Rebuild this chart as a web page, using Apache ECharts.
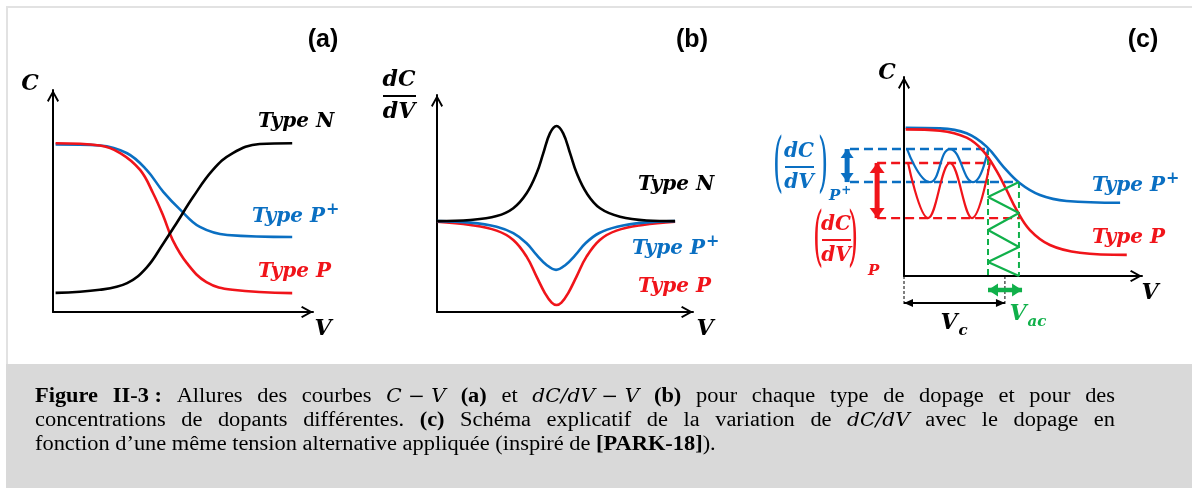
<!DOCTYPE html>
<html><head><meta charset="utf-8">
<script src="https://cdn.jsdelivr.net/npm/echarts@6/dist/echarts.min.js"></script>
<style>html,body{margin:0;padding:0;background:#fff}#c{width:1192px;height:488px}</style>
</head><body><div id="c"></div>
<script>
// ================= DATA (arbitrary units 0-100) =================
// Panel (a): C-V curves
const aTypeN     = [[1,8.6],[18,10],[28.5,13],[36,20],[42.5,31],[47.5,40],[54,52],[61.5,64],[69,71.5],[79.5,75.7],[92,76]];
const aTypePplus = [[1,75.5],[18,75],[28.5,71.5],[36,64],[42.5,54],[49,46],[56.5,38.3],[67,34.7],[92,33.8]];
const aTypeP     = [[1,76],[18,75],[26,71.5],[33.5,64],[38.5,53.5],[42.5,43],[46,32.5],[51.5,22],[59,13.5],[69,10],[92,8.5]];
// Panel (b): dC/dV-V curves
const bTypeN     = [[0,41.9],[13,42.4],[23.3,44.2],[29.8,47.8],[35,54.7],[38.9,63.9],[41.5,73.1],[44.1,82.3],[46.7,85.7],[49.3,82.3],[52,73.1],[54.6,63.9],[58.5,54.7],[63.7,47.8],[71.5,43.9],[81.9,42.2],[93,41.9]];
const bTypePplus = [[0,41.9],[13,41.2],[23.3,39.3],[29.8,36.3],[35,31.7],[38.9,26.3],[42.8,21.7],[46.5,19.4],[50.2,21.7],[54.1,26.3],[58,31.7],[63.2,36.3],[70.4,39.3],[80.8,41.2],[93,41.9]];
const bTypeP     = [[0,41.6],[13,40.1],[23.3,37.5],[29.8,33.2],[35,25.5],[38.9,16.3],[42.2,8.6],[44.8,4.3],[46.7,3.2],[48.6,4.3],[51.2,8.6],[54.5,16.3],[58.4,25.5],[63.6,33.2],[70.1,37.5],[80.4,40.1],[93,41.6]];
// Panel (c): C-V curves and the small-signal construction
const cTypePplus = [[0.7,74.5],[15.1,74.2],[26.3,71.7],[34.7,65],[41.7,55],[48.7,46.6],[57.1,40.7],[68.3,37.7],[90.8,36.8]];
const cTypeP     = [[0.7,73.7],[15.1,73],[26.3,69.5],[33.3,62.8],[38.9,52.8],[43.1,43.2],[47.3,33.2],[52.9,23.1],[61.3,15.6],[73.9,11.7],[93.6,10.6]];
const cWavePplus = [[1.3,63.8],[10.9,47.2],[19.3,63.8],[29,47.2],[35.3,63.8]];
const cWaveP     = [[1.7,56.8],[10.1,29.1],[19.3,56.8],[28.6,29.1],[36.1,56.8]];
const cDashPplusHi = [[-22.7,63.8],[35.3,63.8]];
const cDashPplusLo = [[-22.7,47.2],[47.9,47.2]];
const cDashPHi     = [[-11.3,56.8],[36.1,56.8]];
const cDashPLo     = [[-11.3,29.1],[48.7,29.1]];
const cArrowPplus  = [[-23.9,63.8],[-23.9,47.2]];
const cArrowP      = [[-11.3,56.8],[-11.3,29.1]];
const cVacLeft     = [[35.3,63.8],[35.3,0]];
const cVacRight    = [[48.3,47.2],[48.3,0]];
const cVacWave     = [[48.3,47.2],[35.3,39.7],[48.3,31.7],[35.3,23.1],[48.3,14.6],[35.3,7.0],[48.3,0]];
const cVacArrow    = [[35.3,-7],[49.6,-7]];
const cVcLeft      = [[0,0],[0,-14.6]];
const cVcRight     = [[42.4,0],[42.4,-14.6]];
const cVcArrow     = [[0,-13.6],[42.4,-13.6]];
// Texts
const panelTags = ['(a)','(b)','(c)'];
const typeLabels = ['Type N','Type P','Type P'];
const captionLines = [
  [['Figure II-3\u00A0:','b'],[' Allures des courbes ','n'],['C − V','m'],[' ','n'],['(a)','b'],[' et ','n'],['dC/dV − V','m'],[' ','n'],['(b)','b'],[' pour chaque type de dopage et pour des','n']],
  [['concentrations de dopants différentes. ','n'],['(c)','b'],[' Schéma explicatif de la variation de ','n'],['dC/dV','m'],[' avec le dopage en','n']],
  [['fonction d’une même tension alternative appliquée (inspiré de ','n'],['[PARK-18]','b'],[').','n']]
];
// =======================================================================================

const BLUE='#0a6fc2', RED='#f0141a', GREEN='#10b04a', BLACK='#000';
const ARROW='path://M5,0L10,9L8.7,10L5,3.2L1.3,10L0,9Z';
const TRI='path://M5,0L10,10L0,10Z';
const SERIF_BI='italic bold 20px "DejaVu Serif"';
const cv=document.createElement('canvas').getContext('2d');

// grid 3 shares grid 2's pixel scale but extends to the left (x from -30) so the construction lines can reach the labels
const C_LEFT=904, C_W=238, C_XMIN=-30;
const grids=[
  {left:53,top:90,width:260,height:222},
  {left:437,top:95,width:256,height:217},
  {left:C_LEFT,top:77,width:C_W,height:199},
  {left:C_LEFT + C_XMIN*C_W/100,top:77,width:C_W*(100-C_XMIN)/100,height:199}
];
function mkAxis(i,min){
  return {gridIndex:i,type:'value',min:(min==null?0:min),max:100,show:i<3,
    axisLine:{show:true,onZero:false,symbol:['none',ARROW],symbolSize:[12,12],symbolOffset:[0,-6],lineStyle:{color:BLACK,width:2}},
    axisTick:{show:false},axisLabel:{show:false},splitLine:{show:false}};
}
function ln(g,data,color,width,extra){
  return Object.assign({type:'line',xAxisIndex:g,yAxisIndex:g,data:data,symbol:'none',smooth:false,
    lineStyle:{color:color,width:width},itemStyle:{color:color},silent:true,clip:false,animation:false},extra||{});
}
function arrowItems(pts,w,h){
  const [p0,p1]=pts; const vertical = Math.abs(p0[0]-p1[0])<1e-6;
  if(vertical){
    const up0 = p0[1]>p1[1];
    return [
      {value:p0,symbol:TRI,symbolSize:[w,h],symbolRotate:up0?0:180,symbolOffset:[0,up0?h/2:-h/2]},
      {value:p1,symbol:TRI,symbolSize:[w,h],symbolRotate:up0?180:0,symbolOffset:[0,up0?-h/2:h/2]}
    ];
  } else {
    const left0 = p0[0]<p1[0];
    return [
      {value:p0,symbol:TRI,symbolSize:[w,h],symbolRotate:left0?90:-90,symbolOffset:[left0?h/2:-h/2,0]},
      {value:p1,symbol:TRI,symbolSize:[w,h],symbolRotate:left0?-90:90,symbolOffset:[left0?-h/2:h/2,0]}
    ];
  }
}
function arrowSeries(g,pts,color,lw,w,h){
  return ln(g,arrowItems(pts,w,h),color,lw,{symbol:TRI,showSymbol:true,symbolSize:[w,h]});
}
const dashed=(c,w,p)=>({lineStyle:{color:c,width:w,type:p}});
const series=[
  ln(0,aTypePplus,BLUE,2.6,{smooth:0.4}),
  ln(0,aTypeP,RED,2.6,{smooth:0.4}),
  ln(0,aTypeN,BLACK,2.6,{smooth:0.4}),
  ln(1,bTypeP,RED,2.6,{smooth:0.4}),
  ln(1,bTypePplus,BLUE,2.6,{smooth:0.4}),
  ln(1,bTypeN,BLACK,2.6,{smooth:0.4}),
  ln(3,cDashPplusHi,BLUE,2.4,dashed(BLUE,2.4,[9,5])),
  ln(3,cDashPplusLo,BLUE,2.4,dashed(BLUE,2.4,[9,5])),
  ln(3,cDashPHi,RED,2.4,dashed(RED,2.4,[9,5])),
  ln(3,cDashPLo,RED,2.4,dashed(RED,2.4,[9,5])),
  ln(3,cVacLeft,GREEN,2,dashed(GREEN,2,[6,4])),
  ln(3,cVacRight,GREEN,2,dashed(GREEN,2,[6,4])),
  ln(3,cVcLeft,BLACK,1,dashed(BLACK,1,[3,2])),
  ln(3,cVcRight,BLACK,1,dashed(BLACK,1,[3,2])),
  ln(3,cWavePplus,BLUE,2.2,{smooth:0.5}),
  ln(3,cWaveP,RED,2.2,{smooth:0.4}),
  ln(3,cTypePplus,BLUE,2.6,{smooth:0.4}),
  ln(3,cTypeP,RED,2.6,{smooth:0.4}),
  ln(3,cVacWave,GREEN,2.2),
  arrowSeries(3,cArrowPplus,BLUE,5,13,9),
  arrowSeries(3,cArrowP,RED,5,15,10),
  arrowSeries(3,cVacArrow,GREEN,4.5,13,10),
  arrowSeries(3,cVcArrow,BLACK,2,8,9)
];

// ---------- graphic texts ----------
const G=[];
function txt(x,y,t,font,fill,align,extra){
  G.push(Object.assign({type:'text',x:x,y:y,silent:true,style:{text:t,font:font,fill:fill||BLACK,align:align||'center',verticalAlign:'middle'}},extra||{}));
}
function hline(x1,x2,y,color,w){
  G.push({type:'line',silent:true,shape:{x1:x1,y1:y,x2:x2,y2:y},style:{stroke:color,lineWidth:w||2}});
}
function width(t,font){cv.font=font;return cv.measureText(t).width;}
// label with a superscript "+"
function supPlus(x,y,t,font,fill,supFont,dy){
  txt(x,y,t,font,fill,'left');
  txt(x+width(t,font)+1,y-dy,'+',supFont,fill,'left');
}
// frame & caption box
G.push({type:'rect',silent:true,shape:{x:6,y:364,width:1186,height:124},style:{fill:'#d9d9d9'}});
G.push({type:'line',silent:true,shape:{x1:6,y1:7,x2:1192,y2:7},style:{stroke:'#e2e2e2',lineWidth:2}});
G.push({type:'line',silent:true,shape:{x1:7,y1:6,x2:7,y2:364},style:{stroke:'#e2e2e2',lineWidth:2}});
// panel tags
const TAGF='bold 25px "Liberation Sans"';
txt(323,40,panelTags[0],TAGF); txt(692,40,panelTags[1],TAGF); txt(1143,40,panelTags[2],TAGF);
// axis titles
const AXF='italic bold 22px "DejaVu Serif"';
txt(30,84,'C',AXF); txt(323,329,'V',AXF);
txt(399,80,'dC',AXF); hline(383,416,96,BLACK,2); txt(399,112,'dV',AXF); txt(705,329,'V',AXF);
txt(887,73,'C',AXF); txt(1150,293,'V',AXF);
// type labels
const SUPF='bold 16px "DejaVu Serif"';
txt(258,122,typeLabels[0],SERIF_BI,BLACK,'left');
supPlus(252,217,typeLabels[1],SERIF_BI,BLUE,SUPF,7);
txt(258,272,typeLabels[2],SERIF_BI,RED,'left');
txt(638,185,typeLabels[0],SERIF_BI,BLACK,'left');
supPlus(632,249,typeLabels[1],SERIF_BI,BLUE,SUPF,7);
txt(638,287,typeLabels[2],SERIF_BI,RED,'left');
supPlus(1092,186,typeLabels[1],SERIF_BI,BLUE,SUPF,7);
txt(1092,238,typeLabels[2],SERIF_BI,RED,'left');
// (dC/dV) labels in panel (c)
const FRF='italic bold 20px "DejaVu Serif"';
const PAR='26px "DejaVu Serif"';
txt(778,167,'(',PAR,BLUE,'center',{scaleY:2.5});
txt(823,167,')',PAR,BLUE,'center',{scaleY:2.5});
txt(799,152,'dC',FRF,BLUE); hline(785,814,167,BLUE,2); txt(799,183,'dV',FRF,BLUE);
supPlus(829,196,'P','italic bold 15px "DejaVu Serif"',BLUE,'bold 12px "DejaVu Serif"',5);
txt(818,241,'(',PAR,RED,'center',{scaleY:2.5});
txt(853,241,')',PAR,RED,'center',{scaleY:2.5});
txt(836,225,'dC',FRF,RED); hline(822,851,240,RED,2); txt(836,256,'dV',FRF,RED);
txt(868,271,'P','italic bold 15px "DejaVu Serif"',RED,'left');
// Vc, Vac
txt(949,323,'V',AXF); txt(963,331,'c','italic bold 15px "DejaVu Serif"');
txt(1018,314,'V',AXF,GREEN); txt(1037,322,'ac','italic bold 15px "DejaVu Serif"',GREEN);

// ---------- caption, justified (text slightly widened as in the original scan) ----------
const SX=1.12;
const CF={n:'20px "Liberation Serif"',b:'bold 20px "Liberation Serif"',m:'italic 18px "DejaVu Serif"'};
function mw(t,s){return width(t,CF[s])*SX;}
function buildWords(segs){
  const words=[];let cur=null;
  segs.forEach(([t,s])=>{
    const parts = s==='m'?[t]:t.split(' ');
    parts.forEach((p,i)=>{
      if(i>0)cur=null;
      if(p==='')return;
      if(!cur){cur=[];words.push(cur);}
      cur.push([p,s]);
    });
  });
  return words;
}
const CAPX=35, CAPW=1080, CAPY=[397,421,445];
captionLines.forEach((segs,li)=>{
  const words=buildWords(segs);
  const wl=words.map(w=>w.reduce((a,[t,s])=>a+mw(t,s),0));
  const total=wl.reduce((a,b)=>a+b,0);
  const justify = li<captionLines.length-1;
  const gap = justify ? (CAPW-total)/(words.length-1) : mw(' ','n');
  let x=CAPX;
  words.forEach((w,wi)=>{
    let xx=x;
    w.forEach(([t,s])=>{
      G.push({type:'text',x:xx,y:CAPY[li],scaleX:SX,silent:true,style:{text:t,font:CF[s],fill:'#000',align:'left',verticalAlign:'middle'}});
      xx+=mw(t,s);
    });
    x+=wl[wi]+gap;
  });
});

const chart=echarts.init(document.getElementById('c'),null,{renderer:'canvas',width:1192,height:488});
chart.setOption({
  animation:false,
  backgroundColor:'#fff',
  grid:grids,
  xAxis:[mkAxis(0),mkAxis(1),mkAxis(2),mkAxis(3,C_XMIN)],
  yAxis:[mkAxis(0),mkAxis(1),mkAxis(2),mkAxis(3)],
  series:series,
  graphic:G
});
</script></body></html>
